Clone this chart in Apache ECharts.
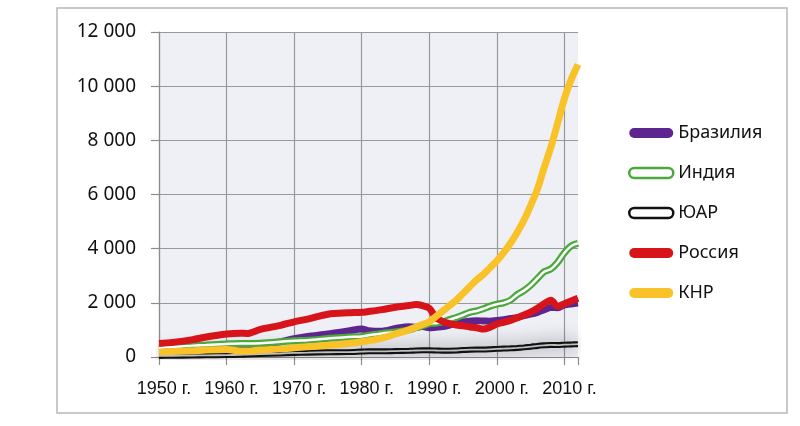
<!DOCTYPE html>
<html>
<head>
<meta charset="utf-8">
<script src="https://cdn.jsdelivr.net/npm/echarts@6/dist/echarts.min.js"></script>
<style>html,body{margin:0;padding:0;background:#fff;}#c{width:800px;height:426px;}</style>
</head>
<body>
<div id="c"></div>
<script>
const years = [1950,1952,1955,1957,1960,1962,1963,1965,1968,1970,1972,1975,1978,1980,1981,1983,1985,1987,1988,1989,1990,1991,1992,1993,1994,1995,1996,1997,1998,1999,2000,2001,2002,2003,2004,2005,2006,2007,2008,2009,2010,2011,2012];
const brazil = [300,330,380,400,420,420,420,450,560,680,760,850,960,1030,970,950,1050,1120,1100,1130,1080,1100,1120,1180,1250,1300,1320,1340,1330,1320,1350,1380,1420,1450,1530,1580,1650,1750,1830,1820,1920,1960,1990];
const india = [340,370,420,440,480,500,500,510,560,600,620,680,740,760,800,870,920,1000,1080,1150,1230,1250,1300,1380,1460,1550,1650,1700,1780,1880,1950,2000,2100,2300,2450,2650,2900,3150,3250,3500,3850,4100,4200];
const sar = [40,45,55,60,70,80,90,110,130,150,160,175,180,200,210,210,220,230,240,245,245,240,235,235,240,260,270,275,275,285,300,310,320,335,355,380,410,430,445,440,455,465,475];
const russia = [500,540,640,740,850,880,870,1020,1170,1300,1400,1580,1630,1650,1680,1750,1840,1900,1940,1900,1800,1450,1310,1230,1180,1150,1110,1080,1030,1100,1220,1280,1350,1450,1550,1660,1800,1970,2100,1870,1970,2070,2170];
const china = [180,200,230,260,280,220,220,260,300,340,380,430,500,560,600,700,850,1000,1100,1200,1300,1500,1700,1900,2100,2350,2600,2850,3050,3300,3550,3850,4200,4600,5050,5600,6200,7000,7750,8650,9550,10250,10800];
const names = ['Бразилия','Индия','ЮАР','Россия','КНР'];
const xTicks = [1950,1960,1970,1980,1990,2000,2010];
const yMin = 0, yMax = 12000, yStep = 2000;

const pair = arr => years.map((y,i)=>[y, arr[i]]);
const pill = 'path://M5,0 H39 A5,5 0 0 1 39,10 H5 A5,5 0 0 1 5,0 Z';
const base = {type:'line', showSymbol:false, symbol:'none', smooth:0.3, silent:true, animation:false};

const chart = echarts.init(document.getElementById('c'));
chart.setOption({
  animation:false,
  graphic:[{type:'rect', shape:{x:57,y:8,width:730,height:405}, style:{fill:'none', stroke:'#b8b8b8', lineWidth:1.5}, z:-10}],
  grid:{left:159, right:222, top:32, bottom:69, show:true, backgroundColor:'#eff0f5', borderWidth:0},
  legend:{
    orient:'vertical', left:628, top:123, padding:0, itemWidth:44, itemHeight:10, itemGap:20,
    textStyle:{fontFamily:'Noto Sans', fontSize:18, color:'#111', lineHeight:20},
    data:[
      {name:names[0], icon:pill, itemStyle:{color:'#5e2590', borderWidth:0}},
      {name:names[1], icon:pill, itemStyle:{color:'#ffffff', borderColor:'#4ba93c', borderWidth:2.5}},
      {name:names[2], icon:pill, itemStyle:{color:'#ffffff', borderColor:'#111111', borderWidth:2.5}},
      {name:names[3], icon:pill, itemStyle:{color:'#d7141a', borderWidth:0}},
      {name:names[4], icon:pill, itemStyle:{color:'#f8c228', borderWidth:0}}
    ]
  },
  xAxis:{
    type:'value', min:1950, max:2012, interval:10,
    axisLine:{show:true, onZero:false, lineStyle:{color:'#8c8c8c', width:1.2}},
    axisTick:{show:true, inside:false, length:8, lineStyle:{color:'#8c8c8c', width:1.2}},
    axisLabel:{customValues:xTicks, margin:23, padding:[0,0,0,10], fontFamily:'Liberation Sans', fontSize:18, color:'#111',
      formatter:v => (v % 10 === 0) ? v + ' г.' : ''},
    splitLine:{show:true, showMaxLine:false, lineStyle:{color:'#999999', width:1.2}}
  },
  yAxis:{
    type:'value', min:yMin, max:yMax, interval:yStep,
    axisLine:{show:true, onZero:false, lineStyle:{color:'#8c8c8c', width:1.2}},
    axisTick:{show:true, inside:false, length:8, lineStyle:{color:'#8c8c8c', width:1.2}},
    axisLabel:{margin:23, fontFamily:'Noto Sans', fontSize:19, color:'#111',
      formatter:v => v === 0 ? '0' : (v/1000) + ' 000'},
    splitLine:{show:true, lineStyle:{color:'#999999', width:1.2}}
  },
  series:[
    Object.assign({}, base, {name:names[2], data:pair(sar), z:2, lineStyle:{color:'#111111', width:6, shadowColor:'rgba(0,0,0,0.45)', shadowBlur:18}}),
    Object.assign({}, base, {name:'ЮАР_in', data:pair(sar), z:2, lineStyle:{color:'#bfbfbf', width:1.8}}),
    Object.assign({}, base, {name:names[0], data:pair(brazil), z:3, lineStyle:{color:'#5e2590', width:7}}),
    Object.assign({}, base, {name:names[1], data:pair(india), z:4, lineStyle:{color:'#4ba93c', width:7}}),
    Object.assign({}, base, {name:'Индия_in', data:pair(india), z:4, lineStyle:{color:'#ffffff', width:2.5}}),
    Object.assign({}, base, {name:names[3], data:pair(russia), z:5, lineStyle:{color:'#d7141a', width:7}}),
    Object.assign({}, base, {name:names[4], data:pair(china), z:6, lineStyle:{color:'#f8c228', width:7}})
  ]
});
</script>
</body>
</html>
